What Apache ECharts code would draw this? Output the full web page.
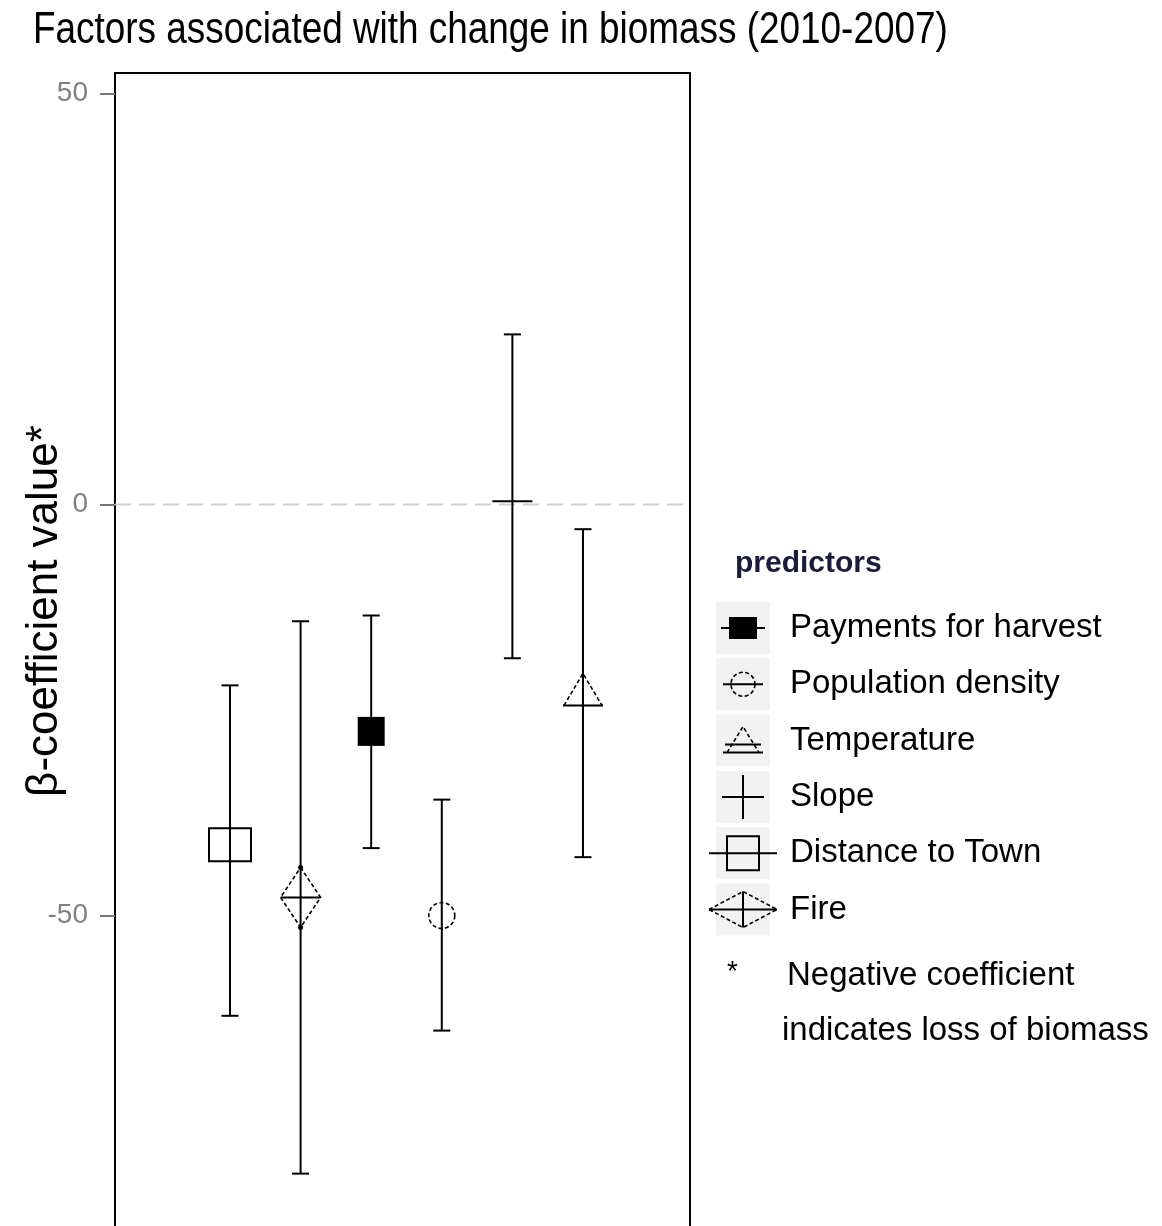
<!DOCTYPE html>
<html>
<head>
<meta charset="utf-8">
<script src="https://cdn.jsdelivr.net/npm/echarts@6/dist/echarts.min.js"></script>
<style>html,body{margin:0;padding:0;background:#fff;}#chart{width:1162px;height:1226px;}</style>
</head>
<body>
<div id="chart"></div>
<script>
// ---- data ----
const predictors = ['Distance to Town', 'Fire', 'Payments for harvest', 'Population density', 'Slope', 'Temperature'];
const xPos = [1, 2, 3, 4, 5, 6];
const estimate = [-41.4, -47.8, -27.6, -50.0, 0.4, -22.5];
const lower = [-62.2, -81.4, -41.8, -64.0, -18.7, -42.9];
const upper = [-22.0, -14.2, -13.5, -35.9, 20.7, -3.0];
const legendOrder = ['Payments for harvest', 'Population density', 'Temperature', 'Slope', 'Distance to Town', 'Fire'];
const yTicks = [-50, 0, 50];
const titleText = 'Factors associated with change in biomass (2010-2007)';
const yAxisTitle = 'β-coefficient value*';
const legendTitle = 'predictors';
const footStar = '*';
const footLines = ['Negative coefficient', 'indicates loss of biomass'];

// ---- styling ----
const shapeKind = {
  'Payments for harvest': 'filledSquare',
  'Population density': 'circle',
  'Temperature': 'triangle',
  'Slope': 'cross',
  'Distance to Town': 'openSquare',
  'Fire': 'diamond'
};
const X_MIN = -0.629, X_MAX = 7.516;
const FONT = '"Liberation Sans", Arial, sans-serif';
const solid = {stroke: '#000', lineWidth: 2, fill: null};
const dashed = {stroke: '#000', lineWidth: 1.6, fill: null, lineDash: [4, 2.5]};

function line(x1, y1, x2, y2, style) {
  return {type: 'line', shape: {x1, y1, x2, y2}, style: Object.assign({}, style || solid)};
}

// shapes drawn in the plot
function plotShape(kind, cx, cy) {
  const c = [];
  if (kind === 'filledSquare') {
    c.push({type: 'rect', shape: {x: cx - 13.5, y: cy - 14.5, width: 27, height: 29}, style: {fill: '#000'}});
  } else if (kind === 'circle') {
    c.push({type: 'circle', shape: {cx, cy, r: 13}, style: dashed});
  } else if (kind === 'triangle') {
    c.push({type: 'polyline', shape: {points: [[cx - 19, cy + 16], [cx, cy - 16], [cx + 19, cy + 16]]}, style: dashed});
    c.push(line(cx - 20, cy + 16, cx + 20, cy + 16));
  } else if (kind === 'cross') {
    c.push(line(cx - 20, cy, cx + 20, cy));
  } else if (kind === 'openSquare') {
    c.push({type: 'rect', shape: {x: cx - 21, y: cy - 16.5, width: 42, height: 33}, style: solid});
  } else if (kind === 'diamond') {
    c.push({type: 'polygon', shape: {points: [[cx, cy - 30], [cx + 20, cy], [cx, cy + 30], [cx - 20, cy]]}, style: dashed});
    c.push(line(cx - 20, cy, cx + 20, cy));
    c.push({type: 'circle', shape: {cx, cy: cy - 30, r: 2.5}, style: {fill: '#000'}});
    c.push({type: 'circle', shape: {cx, cy: cy + 30, r: 2.5}, style: {fill: '#000'}});
  }
  return c;
}

// shapes drawn in the legend keys
function legendShape(kind, cx, cy) {
  const c = [];
  if (kind === 'filledSquare') {
    c.push(line(cx - 22, cy, cx + 22, cy));
    c.push({type: 'rect', shape: {x: cx - 14, y: cy - 11, width: 28, height: 22}, style: {fill: '#000'}});
  } else if (kind === 'circle') {
    c.push(line(cx - 20, cy, cx + 20, cy));
    c.push({type: 'circle', shape: {cx, cy, r: 12}, style: dashed});
  } else if (kind === 'triangle') {
    c.push({type: 'polyline', shape: {points: [[cx - 16, cy + 12], [cx, cy - 14], [cx + 16, cy + 12]]}, style: dashed});
    c.push(line(cx - 20, cy + 12, cx + 20, cy + 12));
    c.push(line(cx - 18, cy + 4, cx + 18, cy + 4));
  } else if (kind === 'cross') {
    c.push(line(cx - 21, cy, cx + 21, cy));
    c.push(line(cx, cy - 22, cx, cy + 22));
  } else if (kind === 'openSquare') {
    c.push({type: 'rect', shape: {x: cx - 16, y: cy - 17, width: 32, height: 34}, style: solid});
    c.push(line(cx - 34, cy, cx + 34, cy));
  } else if (kind === 'diamond') {
    c.push({type: 'polygon', shape: {points: [[cx - 34, cy], [cx, cy - 18], [cx + 34, cy], [cx, cy + 18]]}, style: dashed});
    c.push(line(cx - 34, cy, cx + 34, cy));
    c.push(line(cx, cy - 18, cx, cy + 18));
  }
  return c;
}

const seriesData = predictors.map((p, i) => [xPos[i], estimate[i], lower[i], upper[i], i]);

function renderItem(params, api) {
  const x = api.value(0);
  const pEst = api.coord([x, api.value(1)]);
  const pLo = api.coord([x, api.value(2)]);
  const pHi = api.coord([x, api.value(3)]);
  const kind = shapeKind[predictors[api.value(4)]];
  const cap = 8.5;
  const children = [
    line(pLo[0], pLo[1], pHi[0], pHi[1]),
    line(pHi[0] - cap, pHi[1], pHi[0] + cap, pHi[1]),
    line(pLo[0] - cap, pLo[1], pLo[0] + cap, pLo[1])
  ].concat(plotShape(kind, pEst[0], pEst[1]));
  return {type: 'group', children};
}

// text + legend graphics
const g = [];
g.push({type: 'text', x: 33, y: 31, scaleX: 0.82, originX: 0, originY: 0,
  style: {text: titleText, font: '45px ' + FONT, fill: '#000', textVerticalAlign: 'middle'}});
g.push({type: 'text', x: 45, y: 611, rotation: Math.PI / 2,
  style: {text: yAxisTitle, font: '44px ' + FONT, fill: '#000', textAlign: 'center', textVerticalAlign: 'middle'}});
const LX = 743, LY0 = 628, LSTEP = 56.3;
g.push({type: 'text', x: 735, y: 564, style: {text: legendTitle, font: 'bold 30px ' + FONT, fill: '#1b1b3a', textVerticalAlign: 'middle'}});
legendOrder.forEach((name, i) => {
  const cy = LY0 + i * LSTEP;
  g.push({type: 'rect', shape: {x: 716, y: cy - 26, width: 54, height: 52}, style: {fill: '#f2f2f2'}});
  g.push({type: 'group', children: legendShape(shapeKind[name], LX, cy)});
  g.push({type: 'text', x: 790, y: cy, style: {text: name, font: '33px ' + FONT, fill: '#000', textVerticalAlign: 'middle'}});
});
g.push({type: 'text', x: 727, y: 972, style: {text: footStar, font: '28px ' + FONT, fill: '#000', textVerticalAlign: 'middle'}});
g.push({type: 'text', x: 787, y: 976, style: {text: footLines[0], font: '33px ' + FONT, fill: '#000', textVerticalAlign: 'middle'}});
g.push({type: 'text', x: 782, y: 1031, style: {text: footLines[1], font: '33px ' + FONT, fill: '#000', textVerticalAlign: 'middle'}});

const chart = echarts.init(document.getElementById('chart'), null, {renderer: 'canvas'});
chart.setOption({
  animation: false,
  backgroundColor: '#fff',
  grid: {left: 115, top: 73, width: 575, height: 1253.5, show: true, borderColor: '#000', borderWidth: 2,
    backgroundColor: 'transparent', containLabel: false, outerBoundsMode: 'none'},
  xAxis: {type: 'value', min: X_MIN, max: X_MAX, show: false},
  yAxis: {
    type: 'value', min: -100, max: 52.5, interval: 50,
    axisLine: {show: true, onZero: false, lineStyle: {color: '#000', width: 2}},
    axisTick: {show: true, length: 15, customValues: yTicks, lineStyle: {color: '#777', width: 2}},
    axisLabel: {color: '#808080', fontSize: 28, margin: 27, fontFamily: FONT, customValues: yTicks},
    splitLine: {show: false}
  },
  graphic: g,
  series: [
    {
      type: 'line', silent: true, symbol: 'none',
      data: [[X_MIN, 0], [X_MAX, 0]],
      lineStyle: {color: '#cfcfcf', width: 2, type: [16, 8]}, z: 1
    },
    {
      type: 'custom', renderItem, data: seriesData, z: 5,
      encode: {x: 0, y: [1, 2, 3]}
    }
  ]
});
</script>
</body>
</html>
